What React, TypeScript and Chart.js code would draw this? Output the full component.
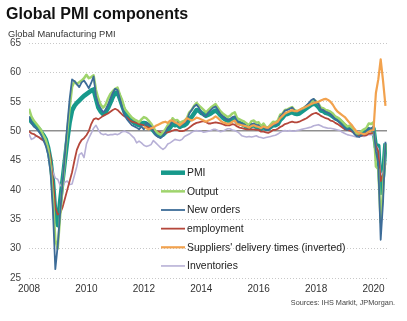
import React, { useEffect, useRef } from 'react';
import { Chart, registerables } from 'chart.js';

Chart.register(...registerables);

const START_YEAR = 2008;
const TITLE = 'Global PMI components';
const SUBTITLE = 'Global Manufacturing PMI';
const SOURCE = 'Sources: IHS Markit, JPMorgan.';
const X_TICKS = [2008, 2010, 2012, 2014, 2016, 2018, 2020];
const Y_TICKS = [25, 30, 35, 40, 45, 50, 55, 60, 65];

// Monthly values, Jan 2008 - Jun 2020
const pmi = [
  52.4, 51.6, 51.2, 50.8, 50.4, 49.9, 49.3, 48.6, 47.2, 45.0, 41.5, 36.0,
  34.0, 38.0, 41.5, 45.0, 48.5, 51.5, 53.5, 54.3, 54.8, 55.2, 55.6, 56.0,
  56.3, 56.6, 56.9, 57.1, 55.5, 54.0, 53.3, 52.9, 53.2, 53.9, 54.8, 55.8,
  56.5, 56.6, 55.5, 54.3, 53.2, 52.6, 52.1, 51.8, 51.4, 51.2, 51.0, 51.3,
  51.4, 51.3, 51.0, 50.6, 50.1, 49.6, 49.3, 49.2, 49.4, 49.8, 50.3, 50.6,
  51.2, 51.0, 51.1, 50.7, 50.9, 51.0, 51.3, 52.0, 52.4, 53.0, 53.6, 53.5,
  53.1, 52.9, 52.6, 52.8, 53.0, 53.3, 53.5, 53.2, 52.7, 52.3, 52.0, 51.8,
  51.8, 52.0, 52.1, 51.5, 51.4, 51.2, 51.0, 50.7, 50.6, 50.9, 51.0, 50.7,
  50.8, 50.4, 50.7, 50.4, 50.4, 50.7, 51.0, 51.0, 51.2, 51.9, 52.3, 52.8,
  52.9, 53.1, 53.2, 53.0, 52.9, 53.0, 53.3, 53.6, 53.9, 54.2, 54.5, 54.7,
  54.5, 54.1, 53.5, 53.4, 53.1, 53.0, 52.8, 52.5, 52.2, 52.0, 51.7, 51.3,
  50.9, 50.6, 50.6, 50.4, 49.9, 49.5, 49.4, 49.5, 49.7, 49.9, 50.3, 50.2,
  50.4, 47.2, 47.5, 39.5, 42.4, 47.9,
];

const output = [
  53.8, 52.5, 51.8, 51.3, 50.8, 50.2, 49.3, 48.5, 47.0, 44.0, 38.5, 31.5,
  30.0, 35.5, 40.5, 45.5, 50.0, 54.0, 57.5, 58.5, 58.0, 58.3, 58.6, 59.0,
  59.6, 59.0, 59.2, 59.5, 57.0, 55.5, 54.5, 54.0, 54.5, 55.5, 56.3, 56.8,
  57.2, 57.4, 56.2, 55.2, 53.8, 53.3, 52.8, 52.3, 52.0, 51.8, 51.5, 52.0,
  52.4, 52.2, 51.8, 51.3, 50.6, 50.0, 49.6, 49.4, 49.8, 50.3, 51.0, 51.3,
  52.2, 51.8, 51.9, 51.4, 51.6, 51.8, 52.2, 53.2, 53.6, 54.3, 54.8, 54.4,
  54.0, 53.6, 53.2, 53.6, 54.0, 54.3, 54.6, 54.0, 53.4, 53.0, 52.7, 52.4,
  52.6, 53.0, 53.2, 52.2, 52.0, 51.8, 51.6, 51.3, 51.0, 51.7, 51.8, 51.4,
  51.5, 50.8, 51.3, 50.7, 50.6, 51.1, 51.6, 51.5, 51.8, 52.8, 53.0, 53.6,
  53.7, 53.9, 54.1, 53.6, 53.4, 53.5, 53.8, 54.0, 54.3, 54.6, 55.0, 55.4,
  55.1, 54.7, 54.0, 53.9, 53.6, 53.5, 53.3, 53.0, 52.5, 52.3, 52.0, 51.6,
  51.2, 50.8, 50.9, 50.6, 50.1, 49.6, 49.6, 50.0, 50.3, 50.5, 51.3, 51.2,
  51.5, 44.0, 43.5, 34.5, 40.0, 47.8,
];

const newOrders = [
  52.5, 51.5, 50.8, 50.5, 50.0, 49.4, 48.5, 47.5, 46.0, 43.0, 36.5, 26.5,
  30.5, 36.0, 41.0, 46.0, 51.0, 55.5, 58.8, 58.5, 58.0, 57.5, 58.3, 58.6,
  58.0, 57.3, 58.2, 59.3, 56.0, 54.5, 53.8, 53.2, 53.6, 54.4, 55.5, 56.5,
  57.2, 57.0, 55.5, 54.0, 52.6, 52.0, 51.5, 51.0, 50.8, 50.6, 50.3, 50.8,
  50.3, 51.4, 51.2, 50.8, 50.0, 49.3, 49.0, 48.8, 49.2, 49.8, 50.6, 51.0,
  51.8, 51.3, 51.5, 50.8, 51.2, 51.4, 51.8, 53.0, 53.6, 54.2, 54.5, 54.0,
  53.2, 52.6, 52.6, 53.2, 53.6, 54.0, 54.2, 53.6, 52.9, 52.5, 52.2, 51.9,
  52.0, 52.4, 52.5, 51.6, 51.5, 51.3, 51.1, 50.8, 50.7, 51.2, 51.3, 51.0,
  51.0, 50.4, 50.8, 50.3, 50.2, 50.7, 51.2, 51.1, 51.4, 52.5, 52.9, 53.5,
  53.6, 53.8, 54.0, 53.5, 53.3, 53.4, 53.7, 54.0, 54.4, 54.8, 55.3, 55.5,
  55.0, 54.6, 53.7, 53.6, 53.3, 53.1, 52.9, 52.5, 52.0, 51.8, 51.4, 51.0,
  50.5, 50.2, 50.4, 50.1, 49.5, 49.1, 49.0, 49.3, 49.5, 50.0, 50.5, 50.4,
  50.8, 46.5, 44.5, 31.5, 38.0, 48.2,
];

const employment = [
  50.0, 49.6, 49.5, 49.2, 49.0, 48.7, 48.4, 48.0, 47.3, 45.5, 41.5, 37.0,
  35.8, 36.0, 37.0, 38.5, 40.0, 41.5, 43.0, 45.0, 46.8, 47.8, 48.5, 48.8,
  49.3, 50.0, 51.2, 52.0, 52.2, 52.0, 52.3, 52.6, 52.8, 53.0, 53.3, 53.6,
  53.8, 53.6, 53.2, 52.8, 52.5, 52.3, 51.9, 51.6, 51.5, 51.4, 51.2, 51.1,
  51.0, 50.8, 50.6, 50.4, 50.2, 50.0, 49.9, 49.8, 49.7, 49.7, 49.8, 49.9,
  50.1, 50.2, 50.2, 50.0, 50.0, 50.1, 50.3, 50.6, 50.9, 51.2, 51.4, 51.5,
  51.6, 51.7, 51.5, 51.3, 51.3, 51.4, 51.5, 51.4, 51.3, 51.2, 51.0, 51.0,
  51.0, 51.2, 51.1, 50.8, 50.6, 50.5, 50.4, 50.3, 50.3, 50.3, 50.3, 50.2,
  50.2, 49.9, 49.9, 49.8, 49.7, 49.9, 50.2, 50.2, 50.4, 50.7, 50.9, 51.2,
  51.3, 51.5, 51.6, 51.5, 51.5, 51.6, 51.8, 52.0, 52.2, 52.5, 52.8, 53.0,
  53.1, 52.9, 52.6, 52.4, 52.2, 52.1, 51.8, 51.7, 51.4, 51.2, 50.9, 50.6,
  50.3, 50.2, 50.1, 49.9, 49.7, 49.5, 49.3, 49.2, 49.3, 49.3, 49.6, 49.6,
  49.8, 47.5, 46.5, 41.5, 42.5, 44.5,
];

const suppliers = [
  null, null, null, null, null, null, null, null, null, null, null, null,
  null, null, null, null, null, null, null, null, null, null, null, null,
  null, null, null, null, null, null, null, null, null, null, null, null,
  null, null, null, null, null, null, null, null, null, null, null, null,
  50.8, 50.5, 50.3, 50.5, 50.6, 50.9, 51.1, 51.3, 51.5, 51.6, 51.4, 51.8,
  51.8, 51.5, 51.3, 51.0, 51.3, 51.6, 52.2, 52.0, 51.8, 52.0, 52.3, 52.2,
  52.0, 51.8, 51.6, 51.8, 52.0, 52.2, 52.5, 52.2, 51.8, 51.5, 51.4, 51.2,
  51.3, 51.6, 51.8, 51.2, 51.1, 51.0, 50.9, 50.8, 50.6, 50.9, 51.0, 50.8,
  50.7, 50.5, 50.8, 50.6, 50.6, 50.9, 51.2, 51.4, 51.6, 52.2, 52.6, 53.0,
  53.2, 53.4, 53.6, 53.4, 53.4, 53.6, 53.8, 54.0, 54.2, 54.4, 54.6, 54.8,
  54.9, 55.0, 55.2, 55.4, 55.5, 55.3, 55.0, 54.5, 53.8, 53.3, 53.0, 52.7,
  52.4, 51.9, 51.4, 51.0, 50.4, 49.9, 49.7, 49.6, 49.5, 49.6, 49.9, 50.1,
  50.2, 56.5, 58.8, 62.2, 58.5, 54.3,
];

const inventories = [
  49.5, 48.6, 48.8, 49.2, 49.0, 48.6, 48.4, 47.8, 46.8, 44.8, 43.0, 42.0,
  41.8, 40.8, 40.5, 41.3, 41.5, 40.9, 41.0, 42.5, 44.0, 46.0, 46.3, 45.5,
  47.8, 48.8, 49.6, 50.5, 51.0, 50.2, 49.6, 49.4, 49.5, 49.3, 49.4, 49.4,
  49.5, 49.4, 49.6, 49.9, 50.0, 49.8, 49.6, 49.2, 48.8, 48.0, 48.3, 48.0,
  47.6, 47.4, 47.5, 47.7, 48.4, 48.0, 47.6, 47.2, 46.9, 47.2, 47.8, 48.0,
  48.3, 48.6, 48.5, 48.4, 48.6, 49.1, 49.3, 49.5, 49.8, 50.0, 50.1, 50.0,
  50.0, 49.8, 49.9, 50.0, 50.1, 50.3, 50.3, 50.1, 49.9, 50.0, 50.2, 50.4,
  50.4, 50.2, 50.1, 49.9, 49.6, 49.2, 49.1, 49.0, 49.1, 49.0, 49.1, 49.2,
  49.0, 48.9, 48.8, 48.9, 49.0, 49.1, 49.2, 49.3, 49.5, 49.8, 50.0, 50.1,
  50.0, 50.1, 50.0, 50.0, 50.1, 50.2, 50.3, 50.4, 50.5, 50.6, 50.7, 50.9,
  51.0, 51.1, 50.9, 50.7, 50.6, 50.5, 50.5, 50.4, 50.3, 50.2, 50.1, 49.8,
  49.6, 49.4, 49.3, 49.2, 49.1, 49.0, 49.1, 49.2, 49.1, 49.3, 49.4, 49.4,
  49.3, 47.5, 47.0, 42.5, 43.0, 44.5,
];

const SERIES = [
  { label: 'PMI', data: pmi, color: '#17998b', width: 4.5, order: 6 },
  { label: 'Output', data: output, color: '#9fd46c', width: 2.5, order: 3 },
  { label: 'New orders', data: newOrders, color: '#3d6c98', width: 1.8, order: 2 },
  { label: 'employment', data: employment, color: '#b5473b', width: 1.8, order: 4 },
  { label: "Suppliers' delivery times (inverted)", data: suppliers, color: '#f2a24e', width: 2.2, order: 1 },
  { label: 'Inventories', data: inventories, color: '#b7b0d6', width: 1.6, order: 5 },
];

const FONT = '"Liberation Sans", Arial, sans-serif';

const overlayPlugin = {
  id: 'overlay',
  afterDraw(chart: any) {
    const ctx = chart.ctx;
    ctx.save();
    ctx.textAlign = 'left';
    ctx.textBaseline = 'alphabetic';
    ctx.fillStyle = '#111';
    ctx.font = `bold 16px ${FONT}`;
    ctx.fillText(TITLE, 6, 18.5);
    ctx.fillStyle = '#333';
    ctx.font = `9.3px ${FONT}`;
    ctx.fillText(SUBTITLE, 8, 36.5);
    ctx.textAlign = 'right';
    ctx.fillStyle = '#444';
    ctx.font = `7.3px ${FONT}`;
    ctx.fillText(SOURCE, 395, 304.5);
    // legend
    ctx.textAlign = 'left';
    ctx.textBaseline = 'middle';
    ctx.font = `10.4px ${FONT}`;
    SERIES.forEach((s, i) => {
      const y = 172.7 + i * 18.65;
      ctx.strokeStyle = s.color;
      ctx.lineWidth = s.width;
      ctx.beginPath();
      ctx.moveTo(161, y);
      ctx.lineTo(185, y);
      ctx.stroke();
      ctx.fillStyle = '#222';
      ctx.fillText(s.label, 187, y + 0.5);
    });
    ctx.restore();
  },
};

export default function App() {
  const ref = useRef<HTMLCanvasElement>(null);
  useEffect(() => {
    document.body.style.margin = '0';
    const toXY = (arr: (number | null)[]) =>
      arr.map((v, i) => ({ x: START_YEAR + i / 12, y: v }));
    const chart = new Chart(ref.current as HTMLCanvasElement, {
      type: 'line',
      data: {
        datasets: SERIES.map((s) => ({
          label: s.label,
          data: toXY(s.data),
          borderColor: s.color,
          backgroundColor: s.color,
          borderWidth: s.width,
          pointRadius: 0,
          tension: 0,
          fill: false,
          order: s.order,
          spanGaps: false,
          borderJoinStyle: 'round' as const,
        })),
      },
      options: {
        animation: false,
        responsive: false,
        devicePixelRatio: 1,
        layout: { padding: { top: 43, right: 20, bottom: 0, left: 0 } },
        plugins: { legend: { display: false }, tooltip: { enabled: false }, title: { display: false } },
        scales: {
          x: {
            type: 'linear',
            min: 2008,
            max: 2020.47,
            afterFit: (s: any) => { s.height = 43; },
            afterBuildTicks: (s: any) => { s.ticks = X_TICKS.map((v) => ({ value: v })); },
            ticks: {
              autoSkip: false,
              maxRotation: 0,
              includeBounds: false,
              padding: 5,
              color: '#333',
              font: { family: FONT, size: 10 },
              callback: (v: any) => String(v),
            },
            grid: { display: false, drawTicks: false },
            border: { display: false },
          },
          y: {
            min: 25,
            max: 65,
            afterFit: (s: any) => { s.width = 29; },
            afterBuildTicks: (s: any) => { s.ticks = Y_TICKS.map((v) => ({ value: v })); },
            ticks: {
              padding: 8,
              color: '#444',
              font: { family: FONT, size: 10 },
            },
            grid: {
              drawTicks: false,
              color: (c: any) => (c.tick && c.tick.value === 50 ? '#8f8f8f' : '#c8c8c8'),
              lineWidth: (c: any) => (c.tick && c.tick.value === 50 ? 1.5 : 1),
            },
            border: {
              display: false,
              dash: (c: any) => (c.tick && c.tick.value === 50 ? [] : [1, 2]),
            },
          },
        },
      },
      plugins: [overlayPlugin],
    });
    return () => chart.destroy();
  }, []);
  return (
    <div style={{ position: 'absolute', left: 0, top: 0, width: 407, height: 321, background: '#fff' }}>
      <canvas ref={ref} width={407} height={321} style={{ display: 'block', width: 407, height: 321 }} />
    </div>
  );
}
